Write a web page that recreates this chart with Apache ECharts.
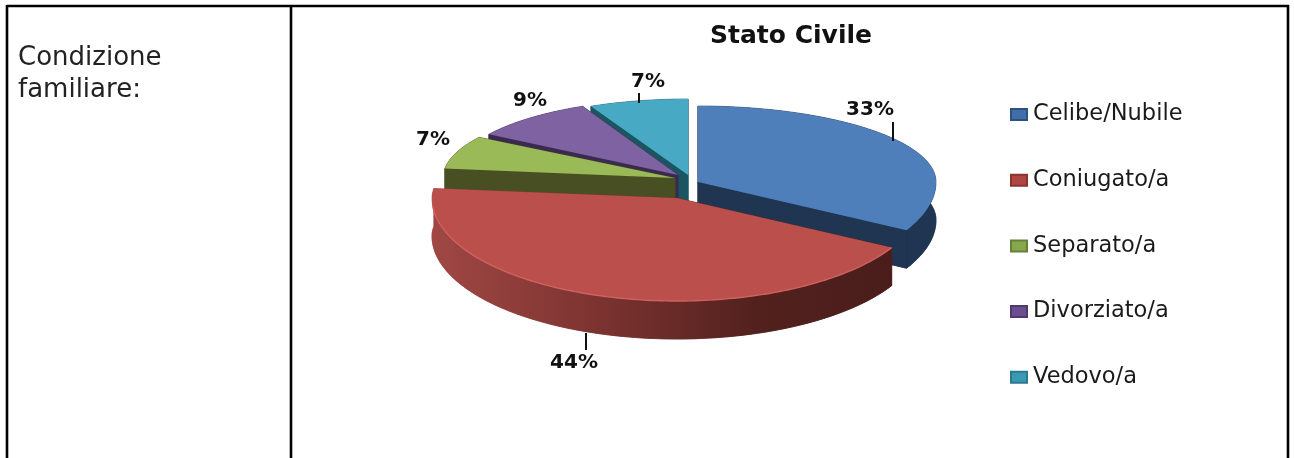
<!DOCTYPE html>
<html><head><meta charset="utf-8">
<style>html,body{margin:0;padding:0;background:#fff}#c{width:1294px;height:458px}</style>
<script src="https://cdn.jsdelivr.net/npm/echarts@6/dist/echarts.min.js"></script>
</head><body><div id="c"></div>
<script>
const categories = ['Celibe/Nubile','Coniugato/a','Separato/a','Divorziato/a','Vedovo/a'];
const values = [33,44,7,9,7];
const chartTitle = 'Stato Civile';
const rowLabel = ['Condizione','familiare:'];

// layout / style only
const topColors = ['#4f7fbb','#bb4f4c','#9aba58','#7f62a1','#48a9c5'];
const legendColors = ['#3f6ea8','#b04644','#86a84a','#6a4e90','#3a9ab5'];
const legendBorders = ['#2c5282','#8a3331','#66803a','#4f3a6e','#2a7a90'];
const wallColors = [
  '#1f3552',
  {type:'linear',x:432,y:0,x2:892,y2:0,global:true,colorStops:[{offset:0,color:'#a04744'},{offset:.35,color:'#7d3431'},{offset:.7,color:'#52211e'},{offset:1,color:'#4a1d1b'}]},
  '#484f22','#3a2a50','#1b5561'
];
const apex = [[698,182],[677,198],[675,178],[678,175],[688,175]];
const radiusX = [238,245,232,224,228];
const radiusTop = 76, radiusBottom = 100, depth = 38;
const zOrder = [4,5,3,2,1];
const labelPos = [[870,110],[574,363],[433,140],[530,101],[648,82]];
const leaders = [[893,122,893,141],[586,333,586,350],null,null,[639,93,639,103]];

const total = values.reduce((a,b)=>a+b,0);
function sliceAngles(i){
  let s=0; for(let k=0;k<i;k++) s+=values[k];
  return [s/total*2*Math.PI,(s+values[i])/total*2*Math.PI];
}
function pt(i,t,dy){
  const c=Math.cos(t);
  const rb = i===1 ? radiusBottom+3 : radiusBottom;
  return [apex[i][0]+radiusX[i]*Math.sin(t), apex[i][1]-c*(c>0?radiusTop:rb)+(dy||0)];
}
function arc(i,dy){
  const [a,b]=sliceAngles(i), n=Math.ceil((b-a)/0.02), out=[];
  for(let k=0;k<=n;k++) out.push(pt(i,a+(b-a)*k/n,dy));
  return out;
}
function renderSlice(i){
  return function(){
    const top=arc(i,0), low=arc(i,depth), A=apex[i], L=[A[0],A[1]+depth];
    const wall=wallColors[i], wallStyle={fill:wall,stroke:wall,lineWidth:.6};
    const kids=[];
    const poly=(points,style)=>kids.push({type:'polygon',shape:{points},style});
    poly([L,...low],wallStyle);
    poly([A,top[0],low[0],L],wallStyle);
    poly([A,top[top.length-1],low[low.length-1],L],wallStyle);
    poly([...top,...low.slice().reverse()],wallStyle);
    poly([A,...top],{fill:topColors[i]});
    if(i===1){
      kids.push({type:'polyline',shape:{points:top.filter(p=>p[1]>205)},style:{fill:null,stroke:'#cf625e',lineWidth:1.4}});
    }
    if(leaders[i]){
      const l=leaders[i];
      kids.push({type:'line',shape:{x1:l[0],y1:l[1],x2:l[2],y2:l[3]},style:{stroke:'#111',lineWidth:2}});
    }
    kids.push({type:'text',x:labelPos[i][0],y:labelPos[i][1],style:{text:values[i]+'%',fill:'#111',font:'bold 20px "DejaVu Sans"',align:'center',verticalAlign:'middle'}});
    return {type:'group',children:kids};
  };
}
const series = categories.map((name,i)=>({
  type:'custom',name,coordinateSystem:'none',z:zOrder[i],silent:true,clip:false,
  itemStyle:{color:legendColors[i],borderColor:legendBorders[i],borderWidth:1},
  data:[values[i]],
  renderItem:renderSlice(i)
}));
const rule=(x1,y1,x2,y2)=>({type:'line',shape:{x1,y1,x2,y2},style:{stroke:'#000',lineWidth:2.6},silent:true});
const chart = echarts.init(document.getElementById('c'),null,{renderer:'canvas'});
chart.setOption({
  animation:false,backgroundColor:'#fff',
  title:{text:chartTitle,left:786,top:19,textAlign:'center',textStyle:{fontFamily:'DejaVu Sans',fontWeight:'bold',fontSize:25,color:'#111'}},
  legend:{orient:'vertical',left:1005,top:98,itemWidth:16,itemHeight:11,itemGap:42.7,icon:'rect',data:categories,selectedMode:false,
    textStyle:{fontFamily:'DejaVu Sans',fontSize:22.5,color:'#1a1a1a',padding:[0,0,0,1]}},
  graphic:[
    rule(7,6,1289,6),rule(7,5,7,458),rule(291,6,291,458),rule(1288,5,1288,458),
    {type:'text',x:18,y:58,style:{text:rowLabel[0],fill:'#222',font:'26px "DejaVu Sans"',verticalAlign:'middle'},silent:true},
    {type:'text',x:18,y:90,style:{text:rowLabel[1],fill:'#222',font:'26px "DejaVu Sans"',verticalAlign:'middle'},silent:true}
  ],
  series
});
</script></body></html>
